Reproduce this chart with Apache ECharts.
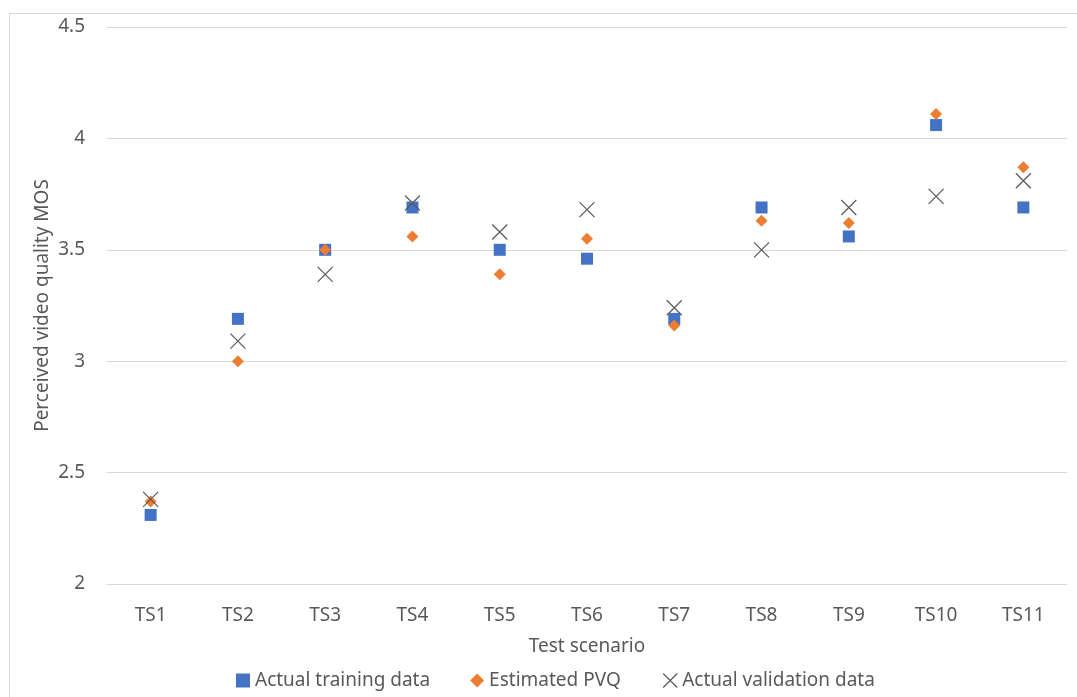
<!DOCTYPE html>
<html><head><meta charset="utf-8">
<script src="https://cdn.jsdelivr.net/npm/echarts@6/dist/echarts.min.js"></script>
<style>html,body{margin:0;padding:0;background:#fff}#c{width:1077px;height:697px}</style>
</head><body><div id="c"></div>
<script>
const categories = ['TS1','TS2','TS3','TS4','TS5','TS6','TS7','TS8','TS9','TS10','TS11'];
const trainingData = [2.31, 3.19, 3.50, 3.69, 3.50, 3.46, 3.19, 3.69, 3.56, 4.06, 3.69];
const estimatedPVQ = [2.37, 3.00, 3.50, 3.56, 3.39, 3.55, 3.16, 3.63, 3.62, 4.11, 3.87];
const validationData = [2.38, 3.09, 3.39, 3.71, 3.58, 3.68, 3.24, 3.50, 3.69, 3.74, 3.81];
const yTicks = [2, 2.5, 3, 3.5, 4, 4.5];

const font = "'Liberation Sans Narrow','Noto Sans',sans-serif";
const txt = '#595959';
const xPath = 'path://M0,0L10,10M10,0L0,10';

const chart = echarts.init(document.getElementById('c'));
chart.setOption({
  animation: false,
  textStyle: { fontFamily: font },
  graphic: [{ type: 'rect', shape: { x: 9.5, y: 13.5, width: 1100, height: 700 },
    style: { fill: 'none', stroke: '#d9d9d9', lineWidth: 1 }, silent: true }],
  grid: { left: 107, right: 10, top: 27, bottom: 113 },
  legend: {
    bottom: 2, left: 231, itemGap: 40, itemWidth: 14, itemHeight: 14,
    textStyle: { color: txt, fontSize: 19, fontFamily: font },
    data: [
      { name: 'Actual training data', icon: 'rect', itemStyle: { color: '#4472c4', opacity: 1 } },
      { name: 'Estimated PVQ', icon: 'diamond', itemStyle: { color: '#ed7d31', opacity: 1 } },
      { name: 'Actual validation data', icon: xPath, itemStyle: { color: 'none', borderColor: '#595959', borderWidth: 1.2, opacity: 1 } }
    ]
  },
  xAxis: {
    type: 'category', data: categories, boundaryGap: true,
    name: 'Test scenario', nameLocation: 'middle', nameGap: 48, nameMoveOverlap: false,
    nameTextStyle: { color: txt, fontSize: 19, fontFamily: font, padding: [5, 0, 0, 0] },
    axisLine: { show: false }, axisTick: { show: false },
    axisLabel: { color: txt, fontSize: 19, margin: 22, fontFamily: font }
  },
  yAxis: {
    type: 'value', min: yTicks[0], max: yTicks[yTicks.length - 1], interval: 0.5,
    name: 'Perceived video quality MOS', nameLocation: 'middle', nameGap: 55, nameMoveOverlap: false,
    nameTextStyle: { color: txt, fontSize: 19, fontFamily: font },
    axisLine: { show: false }, axisTick: { show: false },
    axisLabel: { color: txt, fontSize: 19, margin: 22, fontFamily: font, formatter: v => String(v) },
    splitLine: { lineStyle: { color: '#d9d9d9', width: 1 } }
  },
  series: [
    { name: 'Actual training data', type: 'scatter', data: trainingData, symbol: 'rect', symbolSize: 12,
      itemStyle: { color: '#4472c4', opacity: 1 } },
    { name: 'Estimated PVQ', type: 'scatter', data: estimatedPVQ, symbol: 'diamond', symbolSize: [12, 12],
      itemStyle: { color: '#ed7d31', opacity: 1 } },
    { name: 'Actual validation data', type: 'scatter', data: validationData, symbol: xPath, symbolSize: 15,
      itemStyle: { color: 'none', borderColor: '#595959', borderWidth: 1.2, opacity: 1 } }
  ]
});
</script></body></html>
